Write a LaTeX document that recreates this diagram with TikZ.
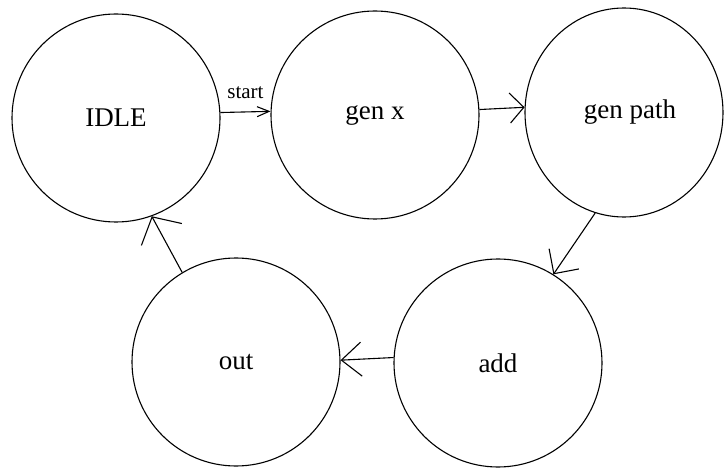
\documentclass[tikz,border=0pt]{standalone}
\usepackage{fontspec}
\setmainfont{Liberation Serif}
\usetikzlibrary{arrows.meta,shapes.geometric}

\tikzset{
  state/.style={circle, draw, line width=1.1pt, minimum size=208pt, inner sep=0pt,
    font=\fontsize{27}{32}\selectfont},
  trans/.style 2 args={line width=1.1pt, -{Straight Barb[length=#1, width=#2, line width=1.1pt]}},
}

\begin{document}
\begin{tikzpicture}[x=1pt, y=-1pt]
  \useasboundingbox[fill=white] (0,0) rectangle (724,468);

  % states
  \node[state] (idle) at (116,118) {IDLE};
  \node[state] (genx) at (375,115) {gen x};
  \node[state, ellipse, minimum width=198pt, minimum height=209pt] (genpath) at (624,112.5) {\hspace*{12pt}gen path};
  \node[state] (out) at (236,362) {out};
  \node[state] (add) at (498,363) {add};

  % transitions
  \draw[trans={12pt}{10pt}] (idle.3.3) -- (genx.178.3)
    node[midway, above=13pt, inner sep=0pt, font=\fontsize{21}{25}\selectfont] {start};
  \draw[trans={14pt}{30pt}] (genx.3.9) -- (genpath.177.2);
  \draw[trans={18pt}{36pt}] (genpath.-106) -- (add.58.5);
  \draw[trans={20pt}{34pt}] (add.177.8) -- (out.1.7);
  \draw[trans={20pt}{46pt}] (out.121.9) -- (idle.-70);
\end{tikzpicture}
\end{document}
